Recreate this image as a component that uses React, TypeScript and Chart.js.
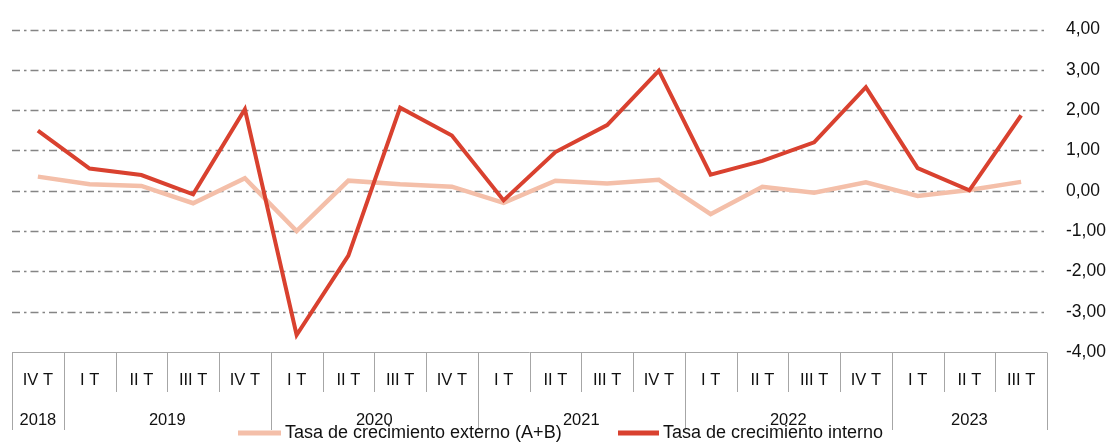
import React, { useEffect, useRef } from "react";
import { Chart, registerables } from "chart.js";

Chart.register(...registerables);

const quarters = [
  "IV T",
  "I T", "II T", "III T", "IV T",
  "I T", "II T", "III T", "IV T",
  "I T", "II T", "III T", "IV T",
  "I T", "II T", "III T", "IV T",
  "I T", "II T", "III T",
];
const yearLabels = ["2018", "2019", "2020", "2021", "2022", "2023"];
const yearSpans = [1, 4, 4, 4, 4, 3];

const externo = [0.35, 0.16, 0.12, -0.31, 0.31, -1.0, 0.25, 0.16, 0.1, -0.3, 0.25, 0.18, 0.27, -0.58, 0.1, -0.05, 0.21, -0.13, 0.02, 0.22];
const interno = [1.49, 0.55, 0.39, -0.09, 2.02, -3.58, -1.61, 2.06, 1.37, -0.24, 0.96, 1.63, 2.98, 0.4, 0.74, 1.2, 2.57, 0.56, 0.01, 1.87];

const yTicks = [4, 3, 2, 1, 0, -1, -2, -3, -4];

const seriesNames = ["Tasa de crecimiento externo (A+B)", "Tasa de crecimiento interno"];
const colorExterno = "#F4BFA9";
const colorInterno = "#D9412F";

const FONT = "'Liberation Sans', Arial, sans-serif";

const customPlugin = {
  id: "custom",
  beforeDatasetsDraw(chart: any) {
    const ctx = chart.ctx;
    const y = chart.scales.y;
    const area = chart.chartArea;
    ctx.save();
    ctx.strokeStyle = "#858585";
    ctx.lineWidth = 1.4;
    ctx.setLineDash([8, 4, 2.5, 4]);
    yTicks.forEach((v) => {
      if (v === -4) return;
      const py = Math.round(y.getPixelForValue(v)) + 0.5;
      ctx.beginPath();
      ctx.moveTo(area.left, py);
      ctx.lineTo(area.right, py);
      ctx.stroke();
    });
    ctx.restore();
  },
  afterDraw(chart: any) {
    const ctx = chart.ctx;
    const x = chart.scales.x;
    const area = chart.chartArea;
    const half = (x.getPixelForValue(1) - x.getPixelForValue(0)) / 2;
    const top = Math.round(area.bottom) + 0.5;
    ctx.save();
    ctx.setLineDash([]);
    ctx.strokeStyle = "#a6a6a6";
    ctx.lineWidth = 1;
    ctx.beginPath();
    ctx.moveTo(area.left, top);
    ctx.lineTo(area.right, top);
    ctx.stroke();
    const yearBounds: number[] = [0];
    let acc = 0;
    yearSpans.forEach((s) => {
      acc += s;
      yearBounds.push(acc);
    });
    for (let i = 0; i <= quarters.length; i++) {
      const px = Math.round(x.getPixelForValue(i) - half) + 0.5;
      const isYear = yearBounds.indexOf(i) >= 0;
      ctx.beginPath();
      ctx.moveTo(px, top);
      ctx.lineTo(px, isYear ? 430 : 392);
      ctx.stroke();
    }
    ctx.fillStyle = "#111";
    ctx.font = `16.5px ${FONT}`;
    ctx.textAlign = "center";
    ctx.textBaseline = "alphabetic";
    quarters.forEach((q, i) => {
      ctx.fillText(q, x.getPixelForValue(i), 385);
    });
    let start = 0;
    yearLabels.forEach((yl, k) => {
      const end = start + yearSpans[k];
      const cx = (x.getPixelForValue(start) - half + x.getPixelForValue(end - 1) + half) / 2;
      ctx.fillText(yl, cx, 425);
      start = end;
    });
    ctx.font = `18px ${FONT}`;
    ctx.textAlign = "left";
    ctx.lineWidth = 5;
    const legendItems = [
      { name: seriesNames[0], color: colorExterno, x0: 238, x1: 281, tx: 285 },
      { name: seriesNames[1], color: colorInterno, x0: 618, x1: 659, tx: 663 },
    ];
    legendItems.forEach((it) => {
      ctx.strokeStyle = it.color;
      ctx.beginPath();
      ctx.moveTo(it.x0, 433);
      ctx.lineTo(it.x1, 433);
      ctx.stroke();
      ctx.fillStyle = "#111";
      ctx.fillText(it.name, it.tx, 438);
    });
    ctx.restore();
  },
};

export default function App() {
  const ref = useRef<HTMLCanvasElement>(null);
  useEffect(() => {
    document.body.style.margin = "0";
    const canvas = ref.current;
    if (!canvas) return;
    const chart = new Chart(canvas, {
      type: "line",
      data: {
        labels: quarters,
        datasets: [
          {
            label: seriesNames[1],
            data: interno,
            borderColor: colorInterno,
            backgroundColor: colorInterno,
            borderWidth: 4,
            pointRadius: 0,
            tension: 0,
            order: 0,
          },
          {
            label: seriesNames[0],
            data: externo,
            borderColor: colorExterno,
            backgroundColor: colorExterno,
            borderWidth: 4.5,
            pointRadius: 0,
            tension: 0,
            order: 1,
          },
        ],
      },
      options: {
        animation: false,
        responsive: false,
        maintainAspectRatio: false,
        layout: { padding: { left: 12, top: 26, bottom: 90, right: 0 } },
        plugins: {
          legend: { display: false },
          tooltip: { enabled: false },
        },
        scales: {
          x: {
            type: "category",
            display: false,
            offset: true,
          },
          y: {
            position: "right",
            min: -4,
            max: 4,
            afterFit: (scale: any) => {
              scale.width = 63;
            },
            grid: { display: false, drawTicks: false },
            border: { display: false },
            ticks: {
              stepSize: 1,
              padding: 19,
              color: "#111",
              font: { family: FONT, size: 17.5 },
              callback: (v: any) => Number(v).toFixed(2).replace(".", ","),
            },
          },
        },
      },
      plugins: [customPlugin],
    });
    return () => chart.destroy();
  }, []);
  return (
    <div style={{ width: 1110, height: 442 }}>
      <canvas ref={ref} width={1110} height={442} style={{ display: "block" }} />
    </div>
  );
}
